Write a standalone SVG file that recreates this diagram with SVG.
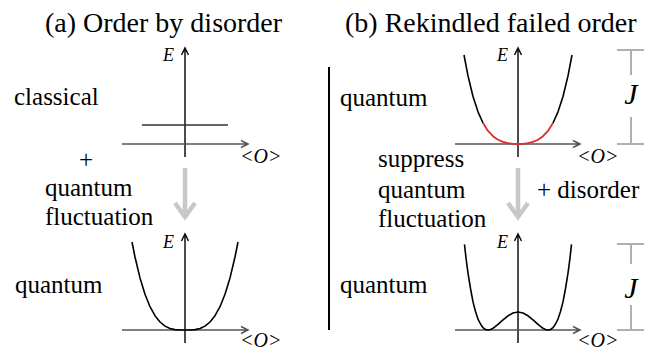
<svg xmlns="http://www.w3.org/2000/svg" width="664" height="354" viewBox="0 0 664 354">
<text style="font-family:'Liberation Serif',serif" font-size="28" x="45" y="32">(a) Order by disorder</text>
<text style="font-family:'Liberation Serif',serif" font-size="28" x="345" y="32">(b) Rekindled failed order</text>

<g id="a-top">
<path fill="none" stroke="#111" stroke-width="1.5" d="M185,157 V48 M181.5,55 L185,48 L188.5,55"/>
<path fill="none" stroke="#555" stroke-width="1.5" d="M122,144 H248 M241,140.5 L248,144 L241,147.5"/>
<line x1="142" y1="125" x2="228" y2="125" stroke="#333" stroke-width="1.5"/>
<text style="font-family:'Liberation Serif',serif" font-size="18" font-style="italic" x="163" y="61">E</text>
<text style="font-family:'Liberation Serif',serif" font-size="20" font-style="italic" x="240" y="163">&lt;O&gt;</text>
<text style="font-family:'Liberation Serif',serif" font-size="25" x="14" y="105">classical</text>
</g>

<g id="a-middle">
<text style="font-family:'Liberation Serif',serif" font-size="25" x="86" y="168" text-anchor="middle">+</text>
<text style="font-family:'Liberation Serif',serif" font-size="25" x="45" y="196">quantum</text>
<text style="font-family:'Liberation Serif',serif" font-size="25" x="45" y="225">fluctuation</text>
</g>

<g id="a-bottom">
<path fill="none" stroke="#111" stroke-width="1.5" d="M185,343 V234 M181.5,241 L185,234 L188.5,241"/>
<path fill="none" stroke="#555" stroke-width="1.5" d="M122,330 H248 M241,326.5 L248,330 L241,333.5"/>
<path fill="none" stroke="#000" stroke-width="1.6" stroke-linejoin="round" d="M132,242 L135,257 L140,277.9 L145,294.2 L150,306.7 L155,315.7 L160,322 L165,326.1 L170,328.5 L175,329.6 L180,330 L190,330 L195,329.6 L200,328.5 L205,326.1 L210,322 L215,315.7 L220,306.7 L225,294.2 L230,277.9 L235,257 L238,242"/>
<text style="font-family:'Liberation Serif',serif" font-size="18" font-style="italic" x="163" y="248">E</text>
<text style="font-family:'Liberation Serif',serif" font-size="20" font-style="italic" x="240" y="347">&lt;O&gt;</text>
<text style="font-family:'Liberation Serif',serif" font-size="25" x="15" y="293">quantum</text>
</g>

<g id="divider">
<line x1="329" y1="67" x2="329" y2="330" stroke="#000" stroke-width="2"/>
</g>

<g id="b-top">
<path fill="none" stroke="#111" stroke-width="1.5" d="M518,157 V48 M514.5,55 L518,48 L521.5,55"/>
<path fill="none" stroke="#555" stroke-width="1.5" d="M455,144 H580 M573,140.5 L580,144 L573,147.5"/>
<path fill="none" stroke="#000" stroke-width="1.6" stroke-linejoin="round" d="M464,55 L468,75.9 L473,96.5 L478,111.8 L483,123"/>
<path fill="none" stroke="#d83030" stroke-width="1.8" stroke-linejoin="round" d="M483,123 L488,130.9 L493,136.2 L498,139.75 L503,141.9 L508,143.2 L513,143.8 L518,144 L523,143.8 L528,143.2 L533,141.9 L538,139.75 L543,136.2 L548,130.9 L553,123"/>
<path fill="none" stroke="#000" stroke-width="1.6" stroke-linejoin="round" d="M553,123 L558,111.8 L563,96.5 L568,75.9 L572,55"/>
<text style="font-family:'Liberation Serif',serif" font-size="18" font-style="italic" x="497" y="61">E</text>
<text style="font-family:'Liberation Serif',serif" font-size="20" font-style="italic" x="577" y="163">&lt;O&gt;</text>
<text style="font-family:'Liberation Serif',serif" font-size="25" x="340" y="106">quantum</text>
<path fill="none" stroke="#b0b0b0" stroke-width="2" d="M617,50 H644 M631,50 V75 M631,117 V144 M617,144 H644"/>
<text style="font-family:'Liberation Serif',serif" font-size="30" font-style="italic" text-anchor="middle" x="631" y="104">J</text>
</g>

<g id="b-middle">
<text style="font-family:'Liberation Serif',serif" font-size="25" x="378" y="167">suppress</text>
<text style="font-family:'Liberation Serif',serif" font-size="25" x="378" y="198">quantum</text>
<text style="font-family:'Liberation Serif',serif" font-size="25" x="378" y="227">fluctuation</text>
<text style="font-family:'Liberation Serif',serif" font-size="25" x="537" y="198">+ disorder</text>
</g>

<g id="b-bottom">
<path fill="none" stroke="#111" stroke-width="1.5" d="M518,343 V234 M514.5,241 L518,234 L521.5,241"/>
<path fill="none" stroke="#555" stroke-width="1.5" d="M455,330 H580 M573,326.5 L580,330 L573,333.5"/>
<path fill="none" stroke="#000" stroke-width="1.6" stroke-linejoin="round" d="M464.5,244.4 L466,258 L468,273.1 L470.5,288.5 L473,301.9 L475.5,311.5 L478,319.1 L480.5,324 L483,327.7 L485.5,329.5 L488,330 L490.5,329.5 L493,328.3 L498,324.4 L503,319.9 L508,315.8 L513,313 L518,312 L523,313 L528,315.8 L533,319.9 L538,324.4 L543,328.3 L545.5,329.5 L548,330 L550.5,329.5 L553,327.7 L555.5,324 L558,319.1 L560.5,311.5 L563,301.9 L565.5,288.5 L568,273.1 L570,258 L571.5,244.4"/>
<text style="font-family:'Liberation Serif',serif" font-size="18" font-style="italic" x="497" y="248">E</text>
<text style="font-family:'Liberation Serif',serif" font-size="20" font-style="italic" x="577" y="347">&lt;O&gt;</text>
<text style="font-family:'Liberation Serif',serif" font-size="25" x="340" y="293">quantum</text>
<path fill="none" stroke="#b0b0b0" stroke-width="2" d="M617,244 H644 M631,244 V264 M631,305 V330 M617,330 H644"/>
<text style="font-family:'Liberation Serif',serif" font-size="30" font-style="italic" text-anchor="middle" x="631" y="298">J</text>
</g>

<g id="connectors">
<path fill="none" stroke="#c8c8c8" stroke-width="4.5" d="M185,168 V217 M175,203 L185,217 L195,203"/>
<path fill="none" stroke="#c8c8c8" stroke-width="4.5" d="M518,168 V217 M508,203 L518,217 L528,203"/>
</g>
</svg>
